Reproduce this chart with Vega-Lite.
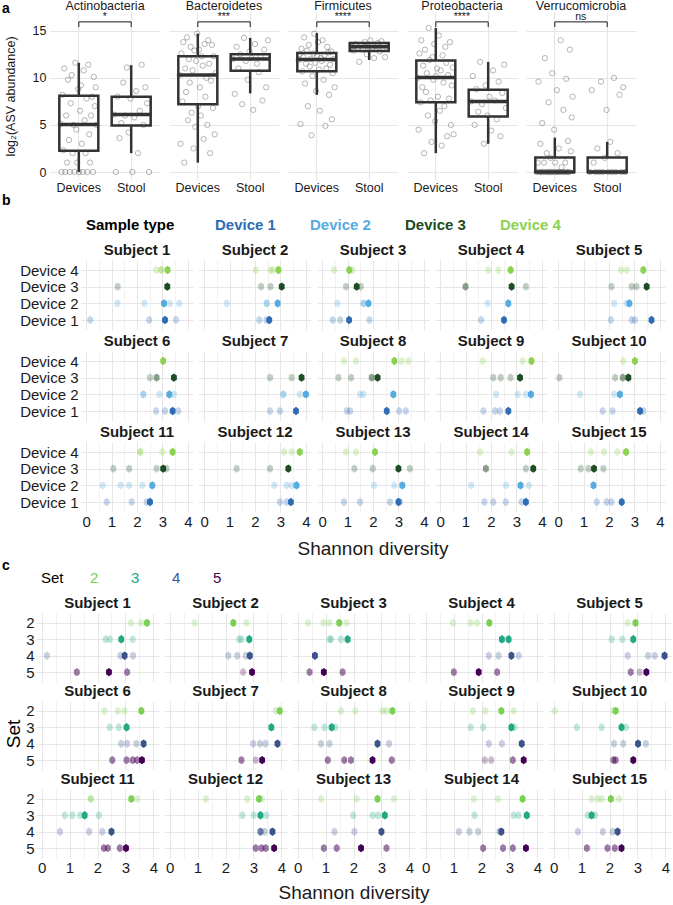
{
"$schema":"https://vega.github.io/schema/vega-lite/v6.json",
"padding":{"left":2,"right":2,"top":0,"bottom":2},
"config":{"font":"Liberation Sans","view":{"stroke":null},"axis":{"domain":false,"ticks":false,"labelColor":"#1a1a1a","titleColor":"#1a1a1a","titleFontWeight":"normal","gridColor":"#E6E6E6"},"header":{"labelColor":"#1a1a1a","titleColor":"#1a1a1a"}},
"spacing":0,
"resolve":{"scale":{"color":"independent","opacity":"independent"},"legend":{"color":"independent","opacity":"independent"}},
"vconcat":[
{
"title":{"text":"a","anchor":"start","frame":"bounds","fontSize":14,"fontWeight":"bold","offset":-16},
"spacing":1,
"hconcat":[
{"width":1,"height":1,"data":{"values":[]},"mark":{"type":"point","opacity":0},"encoding":{}},
{
"data":{"values":[
{"p":"A","t":"D","v":5.1,"i":1},{"p":"A","t":"D","v":0,"i":2},{"p":"A","t":"D","v":8.2,"i":3},{"p":"A","t":"D","v":2.3,"i":4},{"p":"A","t":"D","v":11.0,"i":5},{"p":"A","t":"D","v":0,"i":6},{"p":"A","t":"D","v":6.0,"i":7},{"p":"A","t":"D","v":1,"i":8},{"p":"A","t":"D","v":9.8,"i":9},{"p":"A","t":"D","v":3.4,"i":10},{"p":"A","t":"D","v":0,"i":11},{"p":"A","t":"D","v":7.3,"i":12},{"p":"A","t":"D","v":10.3,"i":13},{"p":"A","t":"D","v":2,"i":14},{"p":"A","t":"D","v":5.0,"i":15},{"p":"A","t":"D","v":0,"i":16},{"p":"A","t":"D","v":11.6,"i":17},{"p":"A","t":"D","v":4.5,"i":18},{"p":"A","t":"D","v":1,"i":19},{"p":"A","t":"D","v":8.8,"i":20},{"p":"A","t":"D","v":0,"i":21},{"p":"A","t":"D","v":6.5,"i":22},{"p":"A","t":"D","v":9.2,"i":23},{"p":"A","t":"D","v":3.0,"i":24},{"p":"A","t":"D","v":0,"i":25},{"p":"A","t":"D","v":10.8,"i":26},{"p":"A","t":"D","v":5.5,"i":27},{"p":"A","t":"D","v":2,"i":28},{"p":"A","t":"D","v":7.8,"i":29},{"p":"A","t":"D","v":0,"i":30},{"p":"A","t":"D","v":11.4,"i":31},{"p":"A","t":"D","v":4.0,"i":32},{"p":"A","t":"D","v":1,"i":33},{"p":"A","t":"D","v":6.0,"i":34},{"p":"A","t":"D","v":8.0,"i":35},{"p":"A","t":"D","v":0,"i":36},{"p":"A","t":"D","v":10.1,"i":37},{"p":"A","t":"D","v":7.0,"i":38},{"p":"A","t":"D","v":9.0,"i":39},{"p":"A","t":"D","v":5.0,"i":40},
{"p":"A","t":"S","v":6.1,"i":2},{"p":"A","t":"S","v":0,"i":4},{"p":"A","t":"S","v":8.0,"i":6},{"p":"A","t":"S","v":3.6,"i":8},{"p":"A","t":"S","v":5.2,"i":10},{"p":"A","t":"S","v":9.5,"i":12},{"p":"A","t":"S","v":6.0,"i":14},{"p":"A","t":"S","v":11.1,"i":16},{"p":"A","t":"S","v":4.2,"i":18},{"p":"A","t":"S","v":7.8,"i":20},{"p":"A","t":"S","v":0,"i":22},{"p":"A","t":"S","v":5.8,"i":24},{"p":"A","t":"S","v":8.6,"i":26},{"p":"A","t":"S","v":2.0,"i":28},{"p":"A","t":"S","v":6.5,"i":30},{"p":"A","t":"S","v":11.4,"i":32},{"p":"A","t":"S","v":5.0,"i":34},{"p":"A","t":"S","v":9.0,"i":36},{"p":"A","t":"S","v":7.3,"i":38},{"p":"A","t":"S","v":0,"i":40},
{"p":"B","t":"D","v":10.3,"i":1},{"p":"B","t":"D","v":3.0,"i":2},{"p":"B","t":"D","v":12.6,"i":3},{"p":"B","t":"D","v":7.5,"i":4},{"p":"B","t":"D","v":13.8,"i":5},{"p":"B","t":"D","v":1.0,"i":6},{"p":"B","t":"D","v":11.0,"i":7},{"p":"B","t":"D","v":8.5,"i":8},{"p":"B","t":"D","v":14.3,"i":9},{"p":"B","t":"D","v":5.5,"i":10},{"p":"B","t":"D","v":12.0,"i":11},{"p":"B","t":"D","v":9.5,"i":12},{"p":"B","t":"D","v":13.3,"i":13},{"p":"B","t":"D","v":6.3,"i":14},{"p":"B","t":"D","v":10.8,"i":15},{"p":"B","t":"D","v":2.5,"i":16},{"p":"B","t":"D","v":12.9,"i":17},{"p":"B","t":"D","v":4.8,"i":18},{"p":"B","t":"D","v":11.8,"i":19},{"p":"B","t":"D","v":14.7,"i":20},{"p":"B","t":"D","v":7.0,"i":21},{"p":"B","t":"D","v":13.0,"i":22},{"p":"B","t":"D","v":9.0,"i":23},{"p":"B","t":"D","v":6.0,"i":24},{"p":"B","t":"D","v":12.3,"i":25},{"p":"B","t":"D","v":11.3,"i":26},{"p":"B","t":"D","v":3.5,"i":27},{"p":"B","t":"D","v":13.6,"i":28},{"p":"B","t":"D","v":8.0,"i":29},{"p":"B","t":"D","v":10.0,"i":30},{"p":"B","t":"D","v":5.0,"i":31},{"p":"B","t":"D","v":14.0,"i":32},{"p":"B","t":"D","v":11.5,"i":33},{"p":"B","t":"D","v":2.0,"i":34},{"p":"B","t":"D","v":9.7,"i":35},{"p":"B","t":"D","v":13.5,"i":36},{"p":"B","t":"D","v":6.8,"i":37},{"p":"B","t":"D","v":12.3,"i":38},{"p":"B","t":"D","v":4.0,"i":39},{"p":"B","t":"D","v":10.5,"i":40},
{"p":"B","t":"S","v":12.0,"i":2},{"p":"B","t":"S","v":8.3,"i":4},{"p":"B","t":"S","v":13.3,"i":6},{"p":"B","t":"S","v":11.0,"i":8},{"p":"B","t":"S","v":12.5,"i":10},{"p":"B","t":"S","v":7.2,"i":12},{"p":"B","t":"S","v":14.25,"i":14},{"p":"B","t":"S","v":11.8,"i":16},{"p":"B","t":"S","v":9.8,"i":18},{"p":"B","t":"S","v":12.8,"i":20},{"p":"B","t":"S","v":12.1,"i":22},{"p":"B","t":"S","v":6.6,"i":24},{"p":"B","t":"S","v":13.6,"i":26},{"p":"B","t":"S","v":11.5,"i":28},{"p":"B","t":"S","v":10.6,"i":30},{"p":"B","t":"S","v":12.3,"i":32},{"p":"B","t":"S","v":7.6,"i":34},{"p":"B","t":"S","v":13.0,"i":36},{"p":"B","t":"S","v":9.0,"i":38},{"p":"B","t":"S","v":14.0,"i":40},
{"p":"F","t":"D","v":11.9,"i":1},{"p":"F","t":"D","v":12.5,"i":2},{"p":"F","t":"D","v":5.1,"i":3},{"p":"F","t":"D","v":13.1,"i":4},{"p":"F","t":"D","v":10.7,"i":5},{"p":"F","t":"D","v":12.2,"i":6},{"p":"F","t":"D","v":14.3,"i":7},{"p":"F","t":"D","v":9.4,"i":8},{"p":"F","t":"D","v":11.5,"i":9},{"p":"F","t":"D","v":12.9,"i":10},{"p":"F","t":"D","v":7.0,"i":11},{"p":"F","t":"D","v":13.5,"i":12},{"p":"F","t":"D","v":11.2,"i":13},{"p":"F","t":"D","v":12.0,"i":14},{"p":"F","t":"D","v":3.9,"i":15},{"p":"F","t":"D","v":10.2,"i":16},{"p":"F","t":"D","v":12.6,"i":17},{"p":"F","t":"D","v":14.7,"i":18},{"p":"F","t":"D","v":11.6,"i":19},{"p":"F","t":"D","v":8.6,"i":20},{"p":"F","t":"D","v":12.3,"i":21},{"p":"F","t":"D","v":13.8,"i":22},{"p":"F","t":"D","v":10.9,"i":23},{"p":"F","t":"D","v":6.5,"i":24},{"p":"F","t":"D","v":12.1,"i":25},{"p":"F","t":"D","v":11.8,"i":26},{"p":"F","t":"D","v":14.0,"i":27},{"p":"F","t":"D","v":9.8,"i":28},{"p":"F","t":"D","v":12.4,"i":29},{"p":"F","t":"D","v":4.9,"i":30},{"p":"F","t":"D","v":11.0,"i":31},{"p":"F","t":"D","v":13.3,"i":32},{"p":"F","t":"D","v":12.7,"i":33},{"p":"F","t":"D","v":8.2,"i":34},{"p":"F","t":"D","v":11.4,"i":35},{"p":"F","t":"D","v":12.8,"i":36},{"p":"F","t":"D","v":5.6,"i":37},{"p":"F","t":"D","v":10.5,"i":38},{"p":"F","t":"D","v":12.0,"i":39},{"p":"F","t":"D","v":9.0,"i":40},
{"p":"F","t":"S","v":13.3,"i":2},{"p":"F","t":"S","v":12.9,"i":4},{"p":"F","t":"S","v":13.6,"i":6},{"p":"F","t":"S","v":13.1,"i":8},{"p":"F","t":"S","v":11.7,"i":10},{"p":"F","t":"S","v":13.5,"i":12},{"p":"F","t":"S","v":13.0,"i":14},{"p":"F","t":"S","v":13.8,"i":16},{"p":"F","t":"S","v":12.5,"i":18},{"p":"F","t":"S","v":13.3,"i":20},{"p":"F","t":"S","v":14.0,"i":22},{"p":"F","t":"S","v":13.2,"i":24},{"p":"F","t":"S","v":12.1,"i":26},{"p":"F","t":"S","v":13.4,"i":28},{"p":"F","t":"S","v":13.7,"i":30},{"p":"F","t":"S","v":12.8,"i":32},{"p":"F","t":"S","v":13.9,"i":34},{"p":"F","t":"S","v":13.5,"i":36},{"p":"F","t":"S","v":12.2,"i":38},{"p":"F","t":"S","v":13.2,"i":40},
{"p":"P","t":"D","v":10.0,"i":1},{"p":"P","t":"D","v":4.5,"i":2},{"p":"P","t":"D","v":12.6,"i":3},{"p":"P","t":"D","v":7.4,"i":4},{"p":"P","t":"D","v":14.0,"i":5},{"p":"P","t":"D","v":9.0,"i":6},{"p":"P","t":"D","v":11.3,"i":7},{"p":"P","t":"D","v":2.0,"i":8},{"p":"P","t":"D","v":13.0,"i":9},{"p":"P","t":"D","v":8.5,"i":10},{"p":"P","t":"D","v":10.5,"i":11},{"p":"P","t":"D","v":6.0,"i":12},{"p":"P","t":"D","v":15.3,"i":13},{"p":"P","t":"D","v":11.9,"i":14},{"p":"P","t":"D","v":7.6,"i":15},{"p":"P","t":"D","v":3.2,"i":16},{"p":"P","t":"D","v":12.2,"i":17},{"p":"P","t":"D","v":9.8,"i":18},{"p":"P","t":"D","v":13.6,"i":19},{"p":"P","t":"D","v":5.4,"i":20},{"p":"P","t":"D","v":10.2,"i":21},{"p":"P","t":"D","v":11.0,"i":22},{"p":"P","t":"D","v":8.0,"i":23},{"p":"P","t":"D","v":14.5,"i":24},{"p":"P","t":"D","v":6.5,"i":25},{"p":"P","t":"D","v":10.8,"i":26},{"p":"P","t":"D","v":2.8,"i":27},{"p":"P","t":"D","v":12.4,"i":28},{"p":"P","t":"D","v":9.5,"i":29},{"p":"P","t":"D","v":7.0,"i":30},{"p":"P","t":"D","v":13.3,"i":31},{"p":"P","t":"D","v":11.6,"i":32},{"p":"P","t":"D","v":3.8,"i":33},{"p":"P","t":"D","v":10.3,"i":34},{"p":"P","t":"D","v":7.8,"i":35},{"p":"P","t":"D","v":13.8,"i":36},{"p":"P","t":"D","v":5.0,"i":37},{"p":"P","t":"D","v":9.2,"i":38},{"p":"P","t":"D","v":11.1,"i":39},{"p":"P","t":"D","v":4.0,"i":40},
{"p":"P","t":"S","v":7.5,"i":2},{"p":"P","t":"S","v":10.2,"i":4},{"p":"P","t":"S","v":5.0,"i":6},{"p":"P","t":"S","v":8.8,"i":8},{"p":"P","t":"S","v":6.4,"i":10},{"p":"P","t":"S","v":11.7,"i":12},{"p":"P","t":"S","v":7.2,"i":14},{"p":"P","t":"S","v":3.0,"i":16},{"p":"P","t":"S","v":9.2,"i":18},{"p":"P","t":"S","v":6.0,"i":20},{"p":"P","t":"S","v":8.0,"i":22},{"p":"P","t":"S","v":4.4,"i":24},{"p":"P","t":"S","v":10.8,"i":26},{"p":"P","t":"S","v":7.6,"i":28},{"p":"P","t":"S","v":5.6,"i":30},{"p":"P","t":"S","v":9.6,"i":32},{"p":"P","t":"S","v":3.8,"i":34},{"p":"P","t":"S","v":8.4,"i":36},{"p":"P","t":"S","v":11.4,"i":38},{"p":"P","t":"S","v":6.8,"i":40},
{"p":"V","t":"D","v":0,"i":1},{"p":"V","t":"D","v":1,"i":2},{"p":"V","t":"D","v":9.6,"i":3},{"p":"V","t":"D","v":0,"i":4},{"p":"V","t":"D","v":3.0,"i":5},{"p":"V","t":"D","v":0,"i":6},{"p":"V","t":"D","v":5.2,"i":7},{"p":"V","t":"D","v":0,"i":8},{"p":"V","t":"D","v":1,"i":9},{"p":"V","t":"D","v":12.1,"i":10},{"p":"V","t":"D","v":0,"i":11},{"p":"V","t":"D","v":2.0,"i":12},{"p":"V","t":"D","v":0,"i":13},{"p":"V","t":"D","v":7.4,"i":14},{"p":"V","t":"D","v":0,"i":15},{"p":"V","t":"D","v":1.5,"i":16},{"p":"V","t":"D","v":0,"i":17},{"p":"V","t":"D","v":10.5,"i":18},{"p":"V","t":"D","v":0,"i":19},{"p":"V","t":"D","v":4.5,"i":20},{"p":"V","t":"D","v":1,"i":21},{"p":"V","t":"D","v":0,"i":22},{"p":"V","t":"D","v":8.7,"i":23},{"p":"V","t":"D","v":0,"i":24},{"p":"V","t":"D","v":2.5,"i":25},{"p":"V","t":"D","v":0,"i":26},{"p":"V","t":"D","v":14.0,"i":27},{"p":"V","t":"D","v":0.5,"i":28},{"p":"V","t":"D","v":0,"i":29},{"p":"V","t":"D","v":6.6,"i":30},{"p":"V","t":"D","v":0,"i":31},{"p":"V","t":"D","v":1,"i":32},{"p":"V","t":"D","v":9.9,"i":33},{"p":"V","t":"D","v":0,"i":34},{"p":"V","t":"D","v":3.3,"i":35},{"p":"V","t":"D","v":0,"i":36},{"p":"V","t":"D","v":13.0,"i":37},{"p":"V","t":"D","v":2.2,"i":38},{"p":"V","t":"D","v":5.8,"i":39},{"p":"V","t":"D","v":8.0,"i":40},
{"p":"V","t":"S","v":0,"i":2},{"p":"V","t":"S","v":8.7,"i":4},{"p":"V","t":"S","v":1,"i":6},{"p":"V","t":"S","v":0,"i":8},{"p":"V","t":"S","v":2.5,"i":10},{"p":"V","t":"S","v":0,"i":12},{"p":"V","t":"S","v":9.6,"i":14},{"p":"V","t":"S","v":0,"i":16},{"p":"V","t":"S","v":1.5,"i":18},{"p":"V","t":"S","v":6.6,"i":20},{"p":"V","t":"S","v":0,"i":22},{"p":"V","t":"S","v":3.2,"i":24},{"p":"V","t":"S","v":0,"i":26},{"p":"V","t":"S","v":10.0,"i":28},{"p":"V","t":"S","v":0,"i":30},{"p":"V","t":"S","v":2.0,"i":32},{"p":"V","t":"S","v":8.2,"i":34},{"p":"V","t":"S","v":0,"i":36},{"p":"V","t":"S","v":9.0,"i":38},{"p":"V","t":"S","v":0,"i":40},
{"p":"A","t":"D","lo":0,"q1":2.27,"med":5.06,"q3":8.1,"hi":11.6},{"p":"A","t":"S","lo":2.0,"q1":4.95,"med":6.1,"q3":8.0,"hi":11.35},
{"p":"B","t":"D","lo":1.0,"q1":7.2,"med":10.3,"q3":12.3,"hi":14.7},{"p":"B","t":"S","lo":8.35,"q1":10.75,"med":12.0,"q3":12.5,"hi":14.25},
{"p":"F","t":"D","lo":8.2,"q1":10.7,"med":11.95,"q3":12.65,"hi":14.75},{"p":"F","t":"S","lo":11.9,"q1":12.85,"med":13.3,"q3":13.7,"hi":13.75},
{"p":"P","t":"D","lo":2.0,"q1":7.4,"med":10.05,"q3":11.85,"hi":15.3},{"p":"P","t":"S","lo":3.0,"q1":5.9,"med":7.5,"q3":8.75,"hi":11.7},
{"p":"V","t":"D","lo":0,"q1":0,"med":0,"q3":1.55,"hi":3.65},{"p":"V","t":"S","lo":0,"q1":0,"med":0,"q3":1.55,"hi":3.2},
{"p":"A","t":"D","t2":"S","sig":"*"},{"p":"B","t":"D","t2":"S","sig":"***"},{"p":"F","t":"D","t2":"S","sig":"****"},{"p":"P","t":"D","t2":"S","sig":"****"},{"p":"V","t":"D","t2":"S","sig":"ns"}
]},
"facet":{"field":"p","type":"nominal","title":null,"header":{"labelExpr":"datum.value=='A'?'Actinobacteria':datum.value=='B'?'Bacteroidetes':datum.value=='F'?'Firmicutes':datum.value=='P'?'Proteobacteria':'Verrucomicrobia'","labelFontSize":12.5,"labelPadding":-1}},
"columns":5,
"spacing":{"column":9,"row":0},
"spec":{"width":110,"height":168,"layer":[
{"transform":[{"filter":{"field":"v","valid":true}}],
"mark":{"type":"point","filled":false,"size":28,"strokeWidth":0.8,"color":"#333333","opacity":0.45},
"encoding":{
"x":{"field":"t","type":"nominal","title":null,"scale":{"domain":["D","S"],"type":"band","paddingInner":0,"paddingOuter":0.05},"axis":{"title":null,"labelExpr":"datum.value=='D'?'Devices':'Stool'","labelFontSize":12.5,"labelPadding":1,"labelAngle":0,"bandPosition":0.5,"grid":true,"gridWidth":1.2}},
"xOffset":{"field":"i","type":"quantitative","scale":{"domain":[1,40],"range":[8,44]}},
"y":{"field":"v","type":"quantitative","title":"log₂(ASV abundance)","scale":{"domain":[-0.85,17],"nice":false,"zero":false},"axis":{"title":"log₂(ASV abundance)","titleFontSize":12.5,"titlePadding":15,"labelFontSize":12.5,"labelPadding":4,"values":[0,2.5,5,7.5,10,12.5,15],"labelExpr":"datum.value % 5 == 0 ? datum.label : ''","gridWidth":1.2,"gridColor":{"condition":{"test":"datum.value % 5 != 0","value":"#F2F2F2"},"value":"#E6E6E6"},"encode":{"labels":{"update":{"dx":{"value":26}}}}}}}},
{"transform":[{"filter":{"field":"q1","valid":true}}],
"mark":{"type":"rule","color":"#333333","strokeWidth":2.5},
"encoding":{"x":{"field":"t","type":"nominal","title":null},"y":{"field":"q3","type":"quantitative","title":"log₂(ASV abundance)"},"y2":{"field":"hi"}}},
{"transform":[{"filter":{"field":"q1","valid":true}}],
"mark":{"type":"rule","color":"#333333","strokeWidth":2.5},
"encoding":{"x":{"field":"t","type":"nominal","title":null},"y":{"field":"lo","type":"quantitative","title":"log₂(ASV abundance)"},"y2":{"field":"q1"}}},
{"transform":[{"filter":{"field":"q1","valid":true}}],
"mark":{"type":"bar","width":39,"fillOpacity":0,"stroke":"#333333","strokeWidth":2.5},
"encoding":{"x":{"field":"t","type":"nominal","title":null},"y":{"field":"q1","type":"quantitative","title":"log₂(ASV abundance)"},"y2":{"field":"q3"}}},
{"transform":[{"filter":{"field":"q1","valid":true}}],
"mark":{"type":"tick","orient":"horizontal","size":40,"thickness":3.5,"color":"#333333","opacity":1},
"encoding":{"x":{"field":"t","type":"nominal","title":null},"y":{"field":"med","type":"quantitative","title":"log₂(ASV abundance)"}}},
{"transform":[{"filter":{"field":"q1","valid":true}}],
"mark":{"type":"rule","color":"#1a1a1a","strokeWidth":1},
"encoding":{"x":{"field":"t","type":"nominal","title":null},"y":{"datum":15.4,"type":"quantitative","title":"log₂(ASV abundance)"},"y2":{"datum":15.95}}},
{"transform":[{"filter":"datum.sig != null"}],
"mark":{"type":"rule","color":"#1a1a1a","strokeWidth":1},
"encoding":{"x":{"field":"t","type":"nominal","title":null},"x2":{"field":"t2"},"y":{"datum":15.95,"type":"quantitative","title":"log₂(ASV abundance)"}}},
{"transform":[{"filter":"datum.sig != null"}],
"mark":{"type":"text","baseline":"bottom","fontSize":10.5,"dx":26,"dy":0,"color":"#1a1a1a"},
"encoding":{"x":{"field":"t","type":"nominal","title":null},"y":{"datum":15.95,"type":"quantitative","title":"log₂(ASV abundance)"},"text":{"field":"sig"}}}
]}
}]
},
{
"title":{"text":"b","anchor":"start","frame":"bounds","fontSize":14,"fontWeight":"bold","offset":4},
"spacing":1,
"resolve":{"scale":{"color":"independent","opacity":"independent"},"legend":{"color":"independent","opacity":"independent"}},
"hconcat":[
{"width":1,"height":1,"data":{"values":[]},"mark":{"type":"point","opacity":0},"encoding":{}},
{
"data":{"values":[
{"s":1,"d":4,"x":2.75,"n":1},{"s":1,"d":4,"x":2.95,"n":2},{"s":1,"d":4,"x":3.2,"n":5},{"s":1,"d":3,"x":1.24,"n":1},{"s":1,"d":3,"x":3.19,"n":5},{"s":1,"d":2,"x":1.23,"n":1},{"s":1,"d":2,"x":2.29,"n":1},{"s":1,"d":2,"x":3.06,"n":4},{"s":1,"d":2,"x":3.29,"n":1},{"s":1,"d":2,"x":3.66,"n":1},{"s":1,"d":1,"x":0.16,"n":1},{"s":1,"d":1,"x":2.48,"n":1},{"s":1,"d":1,"x":3.1,"n":5},{"s":1,"d":1,"x":3.53,"n":1},
{"s":2,"d":4,"x":2.03,"n":1},{"s":2,"d":4,"x":2.61,"n":1},{"s":2,"d":4,"x":2.7,"n":1},{"s":2,"d":4,"x":2.92,"n":5},{"s":2,"d":3,"x":2.24,"n":1},{"s":2,"d":3,"x":2.61,"n":1},{"s":2,"d":3,"x":3.05,"n":5},{"s":2,"d":2,"x":0.89,"n":1},{"s":2,"d":2,"x":2.46,"n":2},{"s":2,"d":2,"x":2.89,"n":5},{"s":2,"d":1,"x":2.17,"n":1},{"s":2,"d":1,"x":2.45,"n":1},{"s":2,"d":1,"x":2.56,"n":5},
{"s":3,"d":4,"x":0.47,"n":1},{"s":3,"d":4,"x":1.07,"n":5},{"s":3,"d":4,"x":1.2,"n":1},{"s":3,"d":3,"x":0.94,"n":1},{"s":3,"d":3,"x":1.36,"n":5},{"s":3,"d":3,"x":1.52,"n":1},{"s":3,"d":2,"x":0.6,"n":1},{"s":3,"d":2,"x":1.62,"n":2},{"s":3,"d":2,"x":1.82,"n":5},{"s":3,"d":1,"x":0.42,"n":1},{"s":3,"d":1,"x":0.71,"n":1},{"s":3,"d":1,"x":1.06,"n":5},{"s":3,"d":1,"x":1.86,"n":1},
{"s":4,"d":4,"x":1.9,"n":1},{"s":4,"d":4,"x":2.29,"n":1},{"s":4,"d":4,"x":2.77,"n":5},{"s":4,"d":3,"x":1.0,"n":2},{"s":4,"d":3,"x":2.81,"n":5},{"s":4,"d":3,"x":3.37,"n":1},{"s":4,"d":2,"x":1.87,"n":1},{"s":4,"d":2,"x":2.68,"n":5},{"s":4,"d":1,"x":1.61,"n":1},{"s":4,"d":1,"x":2.51,"n":5},
{"s":5,"d":4,"x":2.47,"n":1},{"s":5,"d":4,"x":2.69,"n":1},{"s":5,"d":4,"x":3.35,"n":5},{"s":5,"d":3,"x":2.1,"n":1},{"s":5,"d":3,"x":2.89,"n":1},{"s":5,"d":3,"x":3.08,"n":1},{"s":5,"d":3,"x":3.48,"n":5},{"s":5,"d":2,"x":2.2,"n":1},{"s":5,"d":2,"x":2.69,"n":1},{"s":5,"d":2,"x":2.8,"n":5},{"s":5,"d":1,"x":2.07,"n":1},{"s":5,"d":1,"x":2.89,"n":1},{"s":5,"d":1,"x":3.02,"n":1},{"s":5,"d":1,"x":3.67,"n":5},
{"s":6,"d":4,"x":3.03,"n":5},{"s":6,"d":3,"x":2.51,"n":1},{"s":6,"d":3,"x":2.77,"n":2},{"s":6,"d":3,"x":3.45,"n":5},{"s":6,"d":2,"x":2.25,"n":2},{"s":6,"d":2,"x":2.88,"n":1},{"s":6,"d":2,"x":3.27,"n":5},{"s":6,"d":2,"x":3.45,"n":1},{"s":6,"d":1,"x":2.75,"n":1},{"s":6,"d":1,"x":3.1,"n":1},{"s":6,"d":1,"x":3.4,"n":5},{"s":6,"d":1,"x":3.62,"n":1},
{"s":7,"d":3,"x":2.59,"n":1},{"s":7,"d":3,"x":3.44,"n":1},{"s":7,"d":3,"x":3.83,"n":5},{"s":7,"d":2,"x":3.11,"n":2},{"s":7,"d":2,"x":3.76,"n":1},{"s":7,"d":2,"x":4.0,"n":5},{"s":7,"d":1,"x":2.59,"n":1},{"s":7,"d":1,"x":2.98,"n":1},{"s":7,"d":1,"x":3.61,"n":5},
{"s":8,"d":4,"x":0.86,"n":1},{"s":8,"d":4,"x":1.33,"n":1},{"s":8,"d":4,"x":2.84,"n":5},{"s":8,"d":4,"x":3.12,"n":1},{"s":8,"d":4,"x":3.39,"n":1},{"s":8,"d":3,"x":0.64,"n":1},{"s":8,"d":3,"x":1.14,"n":1},{"s":8,"d":3,"x":1.95,"n":2},{"s":8,"d":3,"x":2.18,"n":5},{"s":8,"d":2,"x":1.49,"n":1},{"s":8,"d":2,"x":1.62,"n":1},{"s":8,"d":2,"x":2.8,"n":5},{"s":8,"d":1,"x":0.97,"n":1},{"s":8,"d":1,"x":1.1,"n":1},{"s":8,"d":1,"x":2.54,"n":5},{"s":8,"d":1,"x":3.03,"n":1},{"s":8,"d":1,"x":3.29,"n":1},
{"s":9,"d":4,"x":1.67,"n":1},{"s":9,"d":4,"x":3.24,"n":1},{"s":9,"d":4,"x":3.59,"n":5},{"s":9,"d":3,"x":2.09,"n":1},{"s":9,"d":3,"x":2.38,"n":1},{"s":9,"d":3,"x":2.77,"n":1},{"s":9,"d":3,"x":3.14,"n":5},{"s":9,"d":2,"x":2.2,"n":1},{"s":9,"d":2,"x":3.05,"n":1},{"s":9,"d":2,"x":3.37,"n":1},{"s":9,"d":2,"x":3.57,"n":5},{"s":9,"d":1,"x":1.7,"n":1},{"s":9,"d":1,"x":2.16,"n":1},{"s":9,"d":1,"x":2.35,"n":1},{"s":9,"d":1,"x":2.68,"n":5},
{"s":10,"d":4,"x":2.56,"n":1},{"s":10,"d":4,"x":3.02,"n":5},{"s":10,"d":3,"x":0.05,"n":1},{"s":10,"d":3,"x":2.24,"n":1},{"s":10,"d":3,"x":2.54,"n":2},{"s":10,"d":3,"x":2.76,"n":5},{"s":10,"d":2,"x":0.86,"n":1},{"s":10,"d":2,"x":2.2,"n":1},{"s":10,"d":2,"x":2.43,"n":5},{"s":10,"d":1,"x":1.75,"n":1},{"s":10,"d":1,"x":2.14,"n":1},{"s":10,"d":1,"x":3.22,"n":5},{"s":10,"d":1,"x":3.35,"n":1},
{"s":11,"d":4,"x":2.13,"n":2},{"s":11,"d":4,"x":3.0,"n":1},{"s":11,"d":4,"x":3.4,"n":5},{"s":11,"d":3,"x":1.07,"n":1},{"s":11,"d":3,"x":1.69,"n":1},{"s":11,"d":3,"x":2.77,"n":1},{"s":11,"d":3,"x":3.03,"n":5},{"s":11,"d":3,"x":3.16,"n":1},{"s":11,"d":2,"x":0.65,"n":1},{"s":11,"d":2,"x":1.36,"n":1},{"s":11,"d":2,"x":1.69,"n":1},{"s":11,"d":2,"x":2.21,"n":1},{"s":11,"d":2,"x":2.6,"n":5},{"s":11,"d":1,"x":0.81,"n":1},{"s":11,"d":1,"x":1.79,"n":1},{"s":11,"d":1,"x":2.38,"n":1},{"s":11,"d":1,"x":2.51,"n":5},
{"s":12,"d":4,"x":3.14,"n":1},{"s":12,"d":4,"x":3.44,"n":1},{"s":12,"d":4,"x":3.76,"n":5},{"s":12,"d":3,"x":1.28,"n":1},{"s":12,"d":3,"x":2.59,"n":1},{"s":12,"d":3,"x":3.31,"n":5},{"s":12,"d":2,"x":2.76,"n":1},{"s":12,"d":2,"x":3.24,"n":1},{"s":12,"d":2,"x":3.44,"n":1},{"s":12,"d":2,"x":3.63,"n":5},{"s":12,"d":1,"x":2.98,"n":1},{"s":12,"d":1,"x":3.24,"n":1},{"s":12,"d":1,"x":3.41,"n":5},
{"s":13,"d":4,"x":0.94,"n":1},{"s":13,"d":4,"x":1.33,"n":1},{"s":13,"d":4,"x":2.08,"n":5},{"s":13,"d":3,"x":1.27,"n":1},{"s":13,"d":3,"x":1.99,"n":1},{"s":13,"d":3,"x":3.0,"n":5},{"s":13,"d":3,"x":3.45,"n":1},{"s":13,"d":2,"x":2.04,"n":1},{"s":13,"d":2,"x":2.84,"n":1},{"s":13,"d":2,"x":3.15,"n":5},{"s":13,"d":1,"x":0.86,"n":1},{"s":13,"d":1,"x":1.49,"n":1},{"s":13,"d":1,"x":2.67,"n":1},{"s":13,"d":1,"x":3.0,"n":5},{"s":13,"d":1,"x":3.06,"n":1},
{"s":14,"d":4,"x":1.57,"n":1},{"s":14,"d":4,"x":2.81,"n":1},{"s":14,"d":4,"x":3.42,"n":5},{"s":14,"d":3,"x":1.8,"n":2},{"s":14,"d":3,"x":3.37,"n":1},{"s":14,"d":3,"x":3.66,"n":5},{"s":14,"d":2,"x":1.22,"n":1},{"s":14,"d":2,"x":2.59,"n":1},{"s":14,"d":2,"x":3.16,"n":5},{"s":14,"d":2,"x":3.49,"n":1},{"s":14,"d":1,"x":1.74,"n":1},{"s":14,"d":1,"x":2.09,"n":1},{"s":14,"d":1,"x":2.58,"n":1},{"s":14,"d":1,"x":3.2,"n":1},{"s":14,"d":1,"x":3.37,"n":5},
{"s":15,"d":4,"x":1.29,"n":1},{"s":15,"d":4,"x":1.8,"n":1},{"s":15,"d":4,"x":2.33,"n":1},{"s":15,"d":4,"x":2.67,"n":5},{"s":15,"d":3,"x":0.89,"n":1},{"s":15,"d":3,"x":1.19,"n":1},{"s":15,"d":3,"x":1.41,"n":5},{"s":15,"d":3,"x":1.78,"n":1},{"s":15,"d":2,"x":1.39,"n":5},{"s":15,"d":1,"x":1.52,"n":1},{"s":15,"d":1,"x":1.91,"n":1},{"s":15,"d":1,"x":2.1,"n":1},{"s":15,"d":1,"x":2.5,"n":5}
]},
"facet":{"field":"s","type":"ordinal","title":"Shannon diversity","header":{"labelExpr":"'Subject ' + datum.value","labelFontSize":15,"labelFontWeight":"bold","labelPadding":2,"titleOrient":"bottom","titleFontSize":19,"titleFontWeight":"normal","titlePadding":11}},
"columns":5,
"spacing":{"row":4,"column":6},
"spec":{"width":112,"height":70,
"mark":{"type":"point","shape":"M0,-1L0.7,-0.5L0.7,0.5L0,1L-0.7,0.5L-0.7,-0.5Z","filled":true,"size":70,"strokeWidth":0},
"encoding":{
"x":{"field":"x","type":"quantitative","scale":{"domain":[-0.2,4.2],"nice":false,"zero":false},"axis":{"title":null,"values":[0,0.5,1,1.5,2,2.5,3,3.5,4],"format":".0f","labelExpr":"datum.value % 1 == 0 ? datum.label : ''","labelFontSize":15,"labelPadding":2,"gridColor":{"condition":{"test":"datum.value % 1 != 0","value":"#F2F2F2"},"value":"#E6E6E6"}}},
"y":{"field":"d","type":"ordinal","sort":"descending","scale":{"padding":0.6},"axis":{"title":null,"labelExpr":"'Device ' + datum.value","labelFontSize":15,"labelPadding":3,"minExtent":77,"grid":true}},
"color":{"field":"d","type":"nominal","scale":{"domain":[1,2,3,4],"range":["#2E6DB4","#56ACE0","#1E4D24","#8CD250"]},"legend":{"orient":"top","direction":"horizontal","padding":5,"title":"Sample type","titleOrient":"left","titleFontSize":15,"titleFontWeight":"bold","titleColor":"#000000","titlePadding":25,"labelFontSize":15,"labelFontWeight":"bold","labelExpr":"'Device ' + datum.label","symbolSize":0,"symbolOpacity":0,"symbolStrokeWidth":0,"labelOffset":0,"columnPadding":19,"offset":5,"encode":{"labels":{"update":{"fill":{"signal":"datum.value==1?'#2E6DB4':datum.value==2?'#56ACE0':datum.value==3?'#1E4D24':'#8CD250'"}}}}}},
"opacity":{"field":"n","type":"quantitative","scale":{"domain":[1,4],"range":[0.28,1],"clamp":true},"legend":null}
}}
}]
},
{
"title":{"text":"c","anchor":"start","frame":"bounds","fontSize":14,"fontWeight":"bold","offset":-8},
"spacing":1,
"resolve":{"scale":{"color":"independent","opacity":"independent"},"legend":{"color":"independent","opacity":"independent"}},
"hconcat":[
{"width":1,"height":1,"data":{"values":[]},"mark":{"type":"point","opacity":0},"encoding":{}},
{
"title":{"text":"Set","orient":"left","anchor":"middle","fontSize":19,"fontWeight":"normal","offset":2},
"data":{"values":[
{"s":1,"k":2,"x":3.2,"n":1},{"s":1,"k":2,"x":3.56,"n":1},{"s":1,"k":2,"x":3.77,"n":5},{"s":1,"k":3,"x":2.29,"n":1},{"s":1,"k":3,"x":2.44,"n":1},{"s":1,"k":3,"x":2.85,"n":5},{"s":1,"k":3,"x":3.26,"n":1},{"s":1,"k":4,"x":0.19,"n":1},{"s":1,"k":4,"x":2.82,"n":1},{"s":1,"k":4,"x":2.97,"n":5},{"s":1,"k":4,"x":3.27,"n":1},{"s":1,"k":5,"x":1.26,"n":2},{"s":1,"k":5,"x":2.41,"n":5},{"s":1,"k":5,"x":3.06,"n":2},
{"s":2,"k":2,"x":0.89,"n":1},{"s":2,"k":2,"x":2.28,"n":5},{"s":2,"k":2,"x":2.75,"n":1},{"s":2,"k":3,"x":2.49,"n":1},{"s":2,"k":3,"x":2.57,"n":1},{"s":2,"k":3,"x":2.85,"n":5},{"s":2,"k":4,"x":2.1,"n":1},{"s":2,"k":4,"x":2.42,"n":1},{"s":2,"k":4,"x":2.73,"n":1},{"s":2,"k":4,"x":2.87,"n":5},{"s":2,"k":5,"x":2.63,"n":1},{"s":2,"k":5,"x":2.95,"n":5},
{"s":3,"k":2,"x":0.37,"n":1},{"s":3,"k":2,"x":0.93,"n":1},{"s":3,"k":2,"x":1.14,"n":1},{"s":3,"k":2,"x":1.49,"n":5},{"s":3,"k":2,"x":1.75,"n":1},{"s":3,"k":3,"x":1.14,"n":1},{"s":3,"k":3,"x":1.2,"n":1},{"s":3,"k":3,"x":1.55,"n":1},{"s":3,"k":3,"x":1.79,"n":5},{"s":3,"k":4,"x":0.62,"n":5},{"s":3,"k":5,"x":0.43,"n":2},{"s":3,"k":5,"x":0.94,"n":5},{"s":3,"k":5,"x":1.61,"n":2},
{"s":4,"k":2,"x":0.98,"n":1},{"s":4,"k":2,"x":1.61,"n":1},{"s":4,"k":2,"x":1.84,"n":1},{"s":4,"k":2,"x":2.28,"n":5},{"s":4,"k":3,"x":2.73,"n":4},{"s":4,"k":3,"x":2.97,"n":5},{"s":4,"k":4,"x":2.26,"n":1},{"s":4,"k":4,"x":2.61,"n":1},{"s":4,"k":4,"x":3.07,"n":5},{"s":4,"k":4,"x":3.33,"n":1},{"s":4,"k":5,"x":1.01,"n":2},{"s":4,"k":5,"x":1.9,"n":5},{"s":4,"k":5,"x":2.56,"n":2},
{"s":5,"k":2,"x":2.65,"n":1},{"s":5,"k":2,"x":2.93,"n":5},{"s":5,"k":3,"x":2.08,"n":1},{"s":5,"k":3,"x":2.46,"n":1},{"s":5,"k":3,"x":2.85,"n":5},{"s":5,"k":4,"x":2.65,"n":1},{"s":5,"k":4,"x":3.38,"n":1},{"s":5,"k":4,"x":3.62,"n":1},{"s":5,"k":4,"x":3.97,"n":5},{"s":5,"k":5,"x":2.76,"n":2},{"s":5,"k":5,"x":3.08,"n":1},{"s":5,"k":5,"x":3.32,"n":5},
{"s":6,"k":2,"x":2.25,"n":1},{"s":6,"k":2,"x":2.73,"n":1},{"s":6,"k":2,"x":2.97,"n":1},{"s":6,"k":2,"x":3.57,"n":5},{"s":6,"k":3,"x":2.44,"n":1},{"s":6,"k":3,"x":2.76,"n":1},{"s":6,"k":3,"x":3.04,"n":5},{"s":6,"k":4,"x":2.85,"n":1},{"s":6,"k":4,"x":3.06,"n":1},{"s":6,"k":4,"x":3.39,"n":1},{"s":6,"k":4,"x":3.65,"n":5},{"s":6,"k":5,"x":2.53,"n":2},{"s":6,"k":5,"x":3.04,"n":2},{"s":6,"k":5,"x":3.26,"n":2},{"s":6,"k":5,"x":3.42,"n":2},{"s":6,"k":5,"x":3.59,"n":5},
{"s":7,"k":2,"x":3.8,"n":1},{"s":7,"k":2,"x":3.94,"n":5},{"s":7,"k":3,"x":3.64,"n":5},{"s":7,"k":4,"x":2.99,"n":1},{"s":7,"k":4,"x":3.23,"n":1},{"s":7,"k":4,"x":3.43,"n":1},{"s":7,"k":4,"x":3.86,"n":5},{"s":7,"k":5,"x":2.57,"n":2},{"s":7,"k":5,"x":3.08,"n":1},{"s":7,"k":5,"x":3.31,"n":5},
{"s":8,"k":2,"x":1.55,"n":1},{"s":8,"k":2,"x":2.07,"n":1},{"s":8,"k":2,"x":3.04,"n":1},{"s":8,"k":2,"x":3.18,"n":1},{"s":8,"k":2,"x":3.39,"n":5},{"s":8,"k":3,"x":0.6,"n":1},{"s":8,"k":3,"x":0.96,"n":1},{"s":8,"k":3,"x":1.22,"n":5},{"s":8,"k":3,"x":1.35,"n":1},{"s":8,"k":4,"x":0.84,"n":1},{"s":8,"k":4,"x":1.14,"n":1},{"s":8,"k":4,"x":2.86,"n":5},{"s":8,"k":4,"x":3.27,"n":1},{"s":8,"k":5,"x":1.08,"n":2},{"s":8,"k":5,"x":1.67,"n":2},{"s":8,"k":5,"x":1.91,"n":2},{"s":8,"k":5,"x":2.68,"n":5},{"s":8,"k":5,"x":3.37,"n":2},
{"s":9,"k":2,"x":1.69,"n":1},{"s":9,"k":2,"x":2.14,"n":1},{"s":9,"k":2,"x":2.71,"n":5},{"s":9,"k":2,"x":3.15,"n":1},{"s":9,"k":3,"x":1.61,"n":1},{"s":9,"k":3,"x":2.06,"n":1},{"s":9,"k":3,"x":3.07,"n":5},{"s":9,"k":3,"x":3.18,"n":1},{"s":9,"k":4,"x":2.26,"n":1},{"s":9,"k":4,"x":2.73,"n":1},{"s":9,"k":4,"x":3.44,"n":5},{"s":9,"k":5,"x":2.12,"n":1},{"s":9,"k":5,"x":2.35,"n":1},{"s":9,"k":5,"x":3.12,"n":2},{"s":9,"k":5,"x":3.51,"n":5},
{"s":10,"k":2,"x":0.04,"n":1},{"s":10,"k":2,"x":2.14,"n":1},{"s":10,"k":2,"x":2.22,"n":5},{"s":10,"k":3,"x":0.83,"n":1},{"s":10,"k":3,"x":1.72,"n":1},{"s":10,"k":3,"x":2.43,"n":5},{"s":10,"k":3,"x":2.59,"n":1},{"s":10,"k":4,"x":2.16,"n":1},{"s":10,"k":4,"x":2.49,"n":1},{"s":10,"k":4,"x":3.02,"n":5},{"s":10,"k":4,"x":3.3,"n":1},{"s":10,"k":5,"x":2.14,"n":2},{"s":10,"k":5,"x":2.22,"n":2},{"s":10,"k":5,"x":2.85,"n":5},
{"s":11,"k":2,"x":1.76,"n":2},{"s":11,"k":2,"x":3.21,"n":5},{"s":11,"k":2,"x":3.42,"n":1},{"s":11,"k":3,"x":0.83,"n":1},{"s":11,"k":3,"x":1.1,"n":1},{"s":11,"k":3,"x":1.38,"n":1},{"s":11,"k":3,"x":1.54,"n":5},{"s":11,"k":3,"x":2.05,"n":1},{"s":11,"k":4,"x":0.66,"n":1},{"s":11,"k":4,"x":1.7,"n":1},{"s":11,"k":4,"x":2.17,"n":1},{"s":11,"k":4,"x":2.5,"n":5},{"s":11,"k":5,"x":2.23,"n":2},{"s":11,"k":5,"x":2.37,"n":2},{"s":11,"k":5,"x":2.8,"n":2},{"s":11,"k":5,"x":3.02,"n":5},
{"s":12,"k":2,"x":1.3,"n":1},{"s":12,"k":2,"x":2.78,"n":1},{"s":12,"k":2,"x":3.2,"n":5},{"s":12,"k":2,"x":3.3,"n":1},{"s":12,"k":3,"x":2.6,"n":1},{"s":12,"k":3,"x":3.01,"n":1},{"s":12,"k":3,"x":3.25,"n":5},{"s":12,"k":3,"x":3.46,"n":1},{"s":12,"k":4,"x":3.25,"n":3},{"s":12,"k":4,"x":3.4,"n":1},{"s":12,"k":4,"x":3.68,"n":5},{"s":12,"k":5,"x":3.08,"n":2},{"s":12,"k":5,"x":3.29,"n":2},{"s":12,"k":5,"x":3.44,"n":2},{"s":12,"k":5,"x":3.74,"n":5},
{"s":13,"k":2,"x":0.84,"n":1},{"s":13,"k":2,"x":2.11,"n":1},{"s":13,"k":2,"x":2.86,"n":5},{"s":13,"k":2,"x":3.45,"n":1},{"s":13,"k":3,"x":1.99,"n":1},{"s":13,"k":3,"x":2.68,"n":1},{"s":13,"k":3,"x":2.88,"n":1},{"s":13,"k":3,"x":3.12,"n":5},{"s":13,"k":4,"x":1.32,"n":1},{"s":13,"k":4,"x":2.03,"n":1},{"s":13,"k":4,"x":3.0,"n":5},{"s":13,"k":5,"x":0.94,"n":2},{"s":13,"k":5,"x":1.4,"n":2},{"s":13,"k":5,"x":2.27,"n":5},{"s":13,"k":5,"x":3.18,"n":2},
{"s":14,"k":2,"x":1.73,"n":1},{"s":14,"k":2,"x":2.59,"n":1},{"s":14,"k":2,"x":3.47,"n":5},{"s":14,"k":3,"x":1.75,"n":1},{"s":14,"k":3,"x":3.15,"n":1},{"s":14,"k":3,"x":3.32,"n":1},{"s":14,"k":3,"x":3.62,"n":5},{"s":14,"k":4,"x":1.19,"n":1},{"s":14,"k":4,"x":1.57,"n":1},{"s":14,"k":4,"x":1.88,"n":1},{"s":14,"k":4,"x":2.64,"n":1},{"s":14,"k":4,"x":2.71,"n":5},{"s":14,"k":5,"x":2.06,"n":2},{"s":14,"k":5,"x":2.77,"n":2},{"s":14,"k":5,"x":3.12,"n":2},{"s":14,"k":5,"x":3.59,"n":5},
{"s":15,"k":2,"x":1.36,"n":1},{"s":15,"k":2,"x":1.58,"n":1},{"s":15,"k":2,"x":1.72,"n":1},{"s":15,"k":2,"x":2.05,"n":5},{"s":15,"k":2,"x":2.34,"n":1},{"s":15,"k":3,"x":1.22,"n":1},{"s":15,"k":3,"x":1.36,"n":5},{"s":15,"k":3,"x":1.48,"n":1},{"s":15,"k":4,"x":0.87,"n":1},{"s":15,"k":4,"x":1.76,"n":1},{"s":15,"k":4,"x":2.11,"n":1},{"s":15,"k":4,"x":2.29,"n":5},{"s":15,"k":5,"x":1.19,"n":2},{"s":15,"k":5,"x":1.93,"n":2},{"s":15,"k":5,"x":2.19,"n":2},{"s":15,"k":5,"x":2.43,"n":5}
]},
"facet":{"field":"s","type":"ordinal","title":"Shannon diversity","header":{"labelExpr":"'Subject ' + datum.value","labelFontSize":15,"labelFontWeight":"bold","labelPadding":2,"titleOrient":"bottom","titleFontSize":19,"titleFontWeight":"normal","titlePadding":9}},
"columns":5,
"spacing":{"row":2,"column":5},
"spec":{"width":123,"height":69,
"mark":{"type":"point","shape":"M0,-1L0.7,-0.5L0.7,0.5L0,1L-0.7,0.5L-0.7,-0.5Z","filled":true,"size":70,"strokeWidth":0},
"encoding":{
"x":{"field":"x","type":"quantitative","scale":{"domain":[-0.2,4.2],"nice":false,"zero":false},"axis":{"title":null,"values":[0,0.5,1,1.5,2,2.5,3,3.5,4],"format":".0f","labelExpr":"datum.value % 1 == 0 ? datum.label : ''","labelFontSize":15,"labelPadding":2,"gridColor":{"condition":{"test":"datum.value % 1 != 0","value":"#F2F2F2"},"value":"#E6E6E6"}}},
"y":{"field":"k","type":"ordinal","sort":"ascending","scale":{"padding":0.6},"axis":{"title":null,"labelFontSize":15,"labelPadding":2,"grid":true}},
"color":{"field":"k","type":"nominal","scale":{"domain":[2,3,4,5],"range":["#7AD151","#22A884","#3B528B","#440154"]},"legend":{"orient":"top","direction":"horizontal","padding":5,"title":"Set","titleOrient":"left","titleFontSize":15,"titleFontWeight":"normal","titleColor":"#000000","titlePadding":11,"labelFontSize":15,"symbolSize":0,"symbolOpacity":0,"symbolStrokeWidth":0,"labelOffset":0,"columnPadding":17,"offset":5,"encode":{"labels":{"update":{"fill":{"signal":"datum.value==2?'#7AD151':datum.value==3?'#22A884':datum.value==4?'#3B528B':'#440154'"}}}}}},
"opacity":{"field":"n","type":"quantitative","scale":{"domain":[1,4],"range":[0.28,1],"clamp":true},"legend":null}
}}
}]
}
]
}
